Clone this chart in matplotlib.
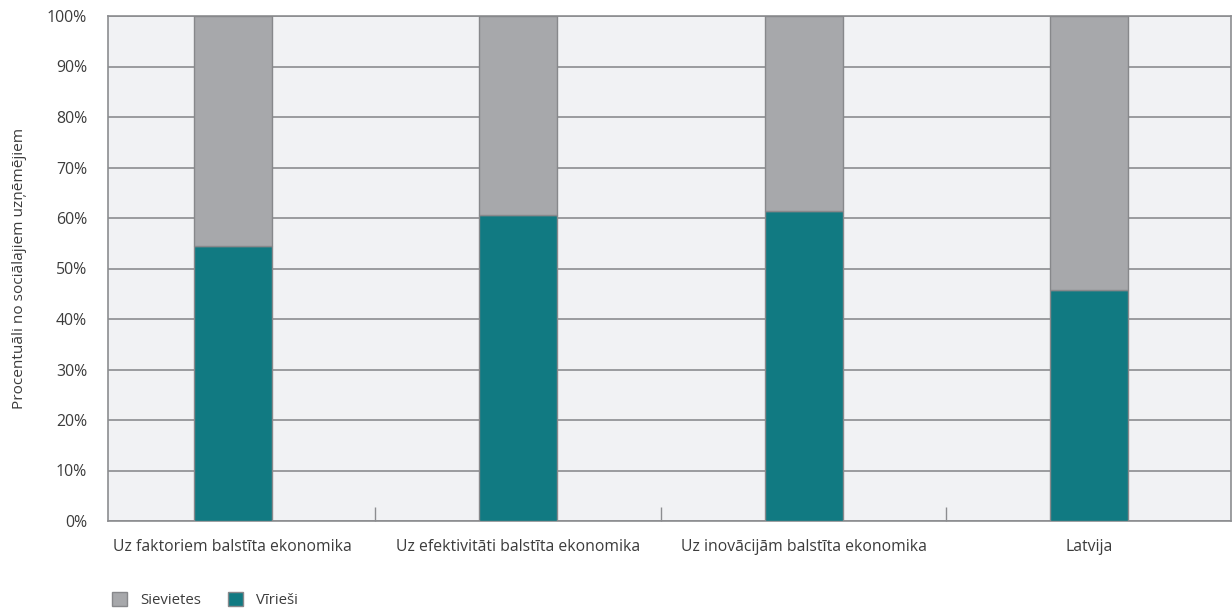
import numpy as np
import matplotlib.pyplot as plt
from matplotlib.patches import Patch

plt.rcParams['font.family'] = ['Open Sans', 'DejaVu Sans']

categories = ["Uz faktoriem balstīta ekonomika", "Uz efektivitāti balstīta ekonomika",
              "Uz inovācijām balstīta ekonomika", "Latvija"]
virviesi = [54.5, 60.6, 61.4, 45.7]
sievietes = [100 - v for v in virviesi]

teal = "#117a82"
grey = "#a7a8ab"
edge = "#87888b"
textc = "#3c3c3c"

fig = plt.figure(figsize=(12.32, 6.08), dpi=100)
ax = fig.add_axes([108/1232, 1 - 521/608, 1123/1232, 505/608])
ax.set_facecolor("#f1f2f4")

x = np.arange(len(categories))
ax.bar(x, virviesi, width=0.273, color=teal, edgecolor=edge, linewidth=1, zorder=3)
ax.bar(x, sievietes, width=0.273, bottom=virviesi, color=grey, edgecolor=edge, linewidth=1, zorder=3)

ax.set_ylim(0, 100)
ax.set_xlim(-0.437, 3.497)
ax.set_yticks(np.arange(0, 101, 10))
ax.set_yticklabels([f"{v}%" for v in range(0, 101, 10)])
ax.yaxis.grid(True, color="#8c8d90", linewidth=1.2, zorder=0)
ax.set_axisbelow(True)
ax.tick_params(axis='y', length=0, pad=15, labelsize=11.4, labelcolor=textc)

ax.set_xticks(x)
ax.set_xticklabels(categories)
ax.tick_params(axis='x', which='major', length=0, pad=13, labelsize=11.3, labelcolor=textc)
ax.set_xticks([0.5, 1.5, 2.5], minor=True)
ax.tick_params(axis='x', which='minor', direction='in', length=10, color="#8c8d90", width=1)

for s in ax.spines.values():
    s.set_color("#8c8d90")
    s.set_linewidth(1.2)

ax.set_ylabel("Procentuāli no sociālajiem uzņēmējiem", fontsize=11.1, color=textc)
ax.yaxis.set_label_coords(-0.072, 0.5)

handles = [Patch(facecolor=grey, edgecolor=edge, label="Sievietes"),
           Patch(facecolor=teal, edgecolor=edge, label="Vīrieši")]
fig.legend(handles=handles, loc='center left', bbox_to_anchor=(104/1232, 8/608), ncol=2,
           frameon=False, fontsize=10.8, handlelength=1.0, handleheight=1.0,
           handletextpad=0.9, columnspacing=1.8, borderpad=0, labelcolor=textc)

fig.savefig("out.png", dpi=100)
